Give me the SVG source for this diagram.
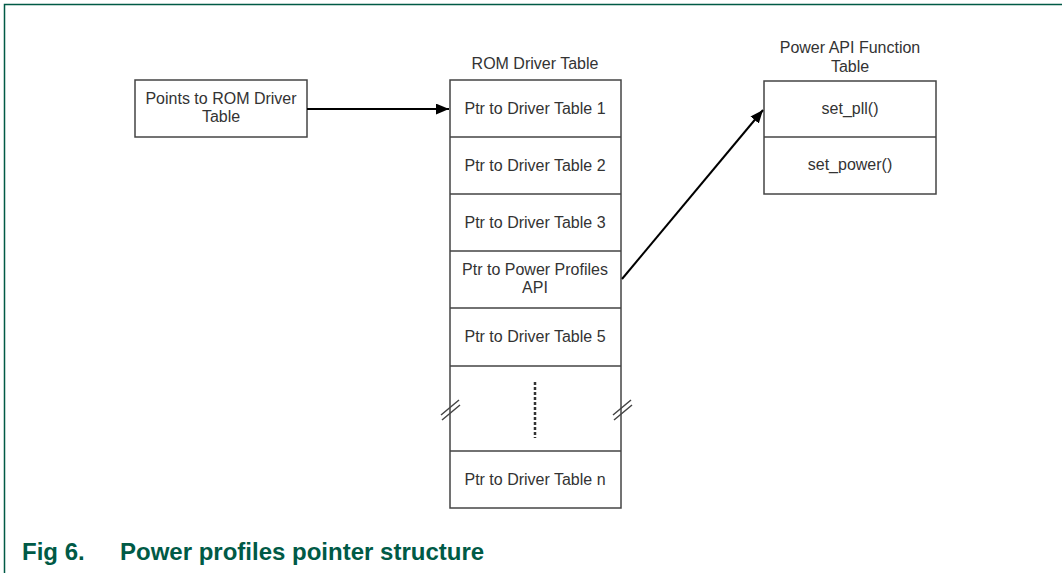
<svg xmlns="http://www.w3.org/2000/svg" width="1062" height="573" viewBox="0 0 1062 573">
<style>
.box{fill:#fff;stroke:#444;stroke-width:1.5}
.ln{stroke:#444;stroke-width:1.5;fill:none}
.t{font-family:"Liberation Sans",Arial,sans-serif;font-size:16px;fill:#333;text-anchor:middle}
.cap{font-family:"Liberation Sans",Arial,sans-serif;font-size:24px;font-weight:bold;fill:#005a46}
.arr{stroke:#000;stroke-width:2;fill:none;marker-end:url(#ah)}
</style>
<defs>
<marker id="ah" viewBox="0 0 12 10" refX="12" refY="5" markerWidth="13" markerHeight="11" markerUnits="userSpaceOnUse" orient="auto">
<path d="M0,0 L12,5 L0,10 z" fill="#000"/>
</marker>
</defs>
<rect width="1062" height="573" fill="#fff"/>
<path d="M4.5,573 V4.5 H1062" stroke="#005a46" stroke-width="1.5" fill="none"/>

<g id="pointsTo">
<rect class="box" x="135" y="80" width="172" height="57"/>
<text class="t" x="221" y="104">Points to ROM Driver</text>
<text class="t" x="221" y="122">Table</text>
</g>

<g id="romTable">
<text class="t" x="535" y="69">ROM Driver Table</text>
<rect class="box" x="450" y="80" width="171" height="428"/>
<path class="ln" d="M450,137 H621 M450,194 H621 M450,251 H621 M450,308 H621 M450,366 H621 M450,451 H621"/>
<text class="t" x="535" y="114">Ptr to Driver Table 1</text>
<text class="t" x="535" y="171">Ptr to Driver Table 2</text>
<text class="t" x="535" y="228">Ptr to Driver Table 3</text>
<text class="t" x="535" y="275">Ptr to Power Profiles</text>
<text class="t" x="535" y="293">API</text>
<text class="t" x="535" y="342">Ptr to Driver Table 5</text>
<line x1="535" y1="382" x2="535" y2="438" stroke="#333" stroke-width="2.5" stroke-dasharray="3,2"/>
<path class="ln" d="M441,415 L459,400 M442,420 L460,405 M613,415 L631,400 M614,420 L632,405"/>
<text class="t" x="535" y="485">Ptr to Driver Table n</text>
</g>

<g id="powerApi">
<text class="t" x="850" y="53">Power API Function</text>
<text class="t" x="850" y="72">Table</text>
<rect class="box" x="764" y="81" width="172" height="113"/>
<line class="ln" x1="764" y1="137" x2="936" y2="137"/>
<text class="t" x="850" y="114">set_pll()</text>
<text class="t" x="850" y="170">set_power()</text>
</g>

<g id="connectors">
<line class="arr" x1="307" y1="109" x2="449" y2="109"/>
<line class="arr" x1="622" y1="279" x2="763" y2="110"/>
</g>

<g id="caption">
<text class="cap" x="22" y="560">Fig 6.</text>
<text class="cap" x="120" y="560">Power profiles pointer structure</text>
</g>
</svg>
